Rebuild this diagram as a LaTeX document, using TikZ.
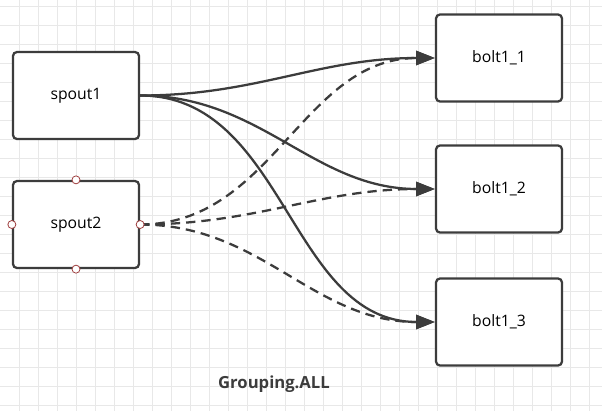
\documentclass[tikz,border=0pt]{standalone}
\usepackage{fontspec}
\setmainfont{Open Sans}
\usepackage{xcolor}
\usetikzlibrary{arrows.meta,positioning}

\definecolor{edgegray}{HTML}{3C3C3C}
\definecolor{gridgray}{HTML}{E8E8E8}
\definecolor{portred}{HTML}{A04040}

\begin{document}
\begin{tikzpicture}[
		x=0.75pt,y=-0.75pt,
		box/.style={
		  draw=edgegray,
		  line width=1.7pt,
		  rounded corners=3pt,
		  fill=white,
		  minimum width=94.5pt,
		  minimum height=65.25pt,
		  inner sep=0pt,
		  font=\fontsize{11.8}{14}\selectfont
		},
		port/.style={
		  draw=portred,
		  line width=0.6pt,
		  fill=white,
		  circle,
		  inner sep=0pt,
		  minimum size=6pt
		},
		grouping/.style={
		  draw=edgegray,
		  line width=1.7pt,
		  -{Triangle[length=14pt,width=10.5pt]}
		},
		groupingdash/.style={
		  grouping,
		  dash pattern=on 7pt off 4.5pt
		}
		]
		% background grid
		\useasboundingbox (0,0) rectangle (602,411);
		\fill[white] (0,0) rectangle (602,411);
		\foreach \gx in {19,38,...,600}
		  \draw[gridgray,line width=0.75pt] (\gx,0) -- (\gx,411);
		\foreach \gy in {6,25,...,410}
		  \draw[gridgray,line width=0.75pt] (0,\gy) -- (602,\gy);

		% spouts
		\node[box] (spout1) at (76,95.5) {spout1};
		\node[box] (spout2) at (76,224.5) {spout2};

		% bolts
		\node[box] (bolt11) at (499,58) {bolt1\_1};
		\node[box] (bolt12) at (499,189) {bolt1\_2};
		\node[box] (bolt13) at (499,322) {bolt1\_3};

		% solid edges from spout1
		\draw[grouping] (spout1.east) to[out=0,in=180] (bolt11.west);
		\draw[grouping] (spout1.east) to[out=0,in=180] (bolt12.west);
		\draw[grouping] (spout1.east) to[out=0,in=180] (bolt13.west);

		% dashed edges from spout2
		\draw[groupingdash] (spout2.east) to[out=0,in=180] (bolt11.west);
		\draw[groupingdash] (spout2.east) to[out=0,in=180] (bolt12.west);
		\draw[groupingdash] (spout2.east) to[out=0,in=180] (bolt13.west);

		% connection points of the selected spout
		\foreach \anc in {north,south,east,west}
		  \node[port] (p\anc) at (spout2.\anc) {};

		\node[font=\bfseries\fontsize{12.5}{15}\selectfont,text=edgegray] (title) at (274,384) {Grouping.ALL};
	\end{tikzpicture}
\end{document}
